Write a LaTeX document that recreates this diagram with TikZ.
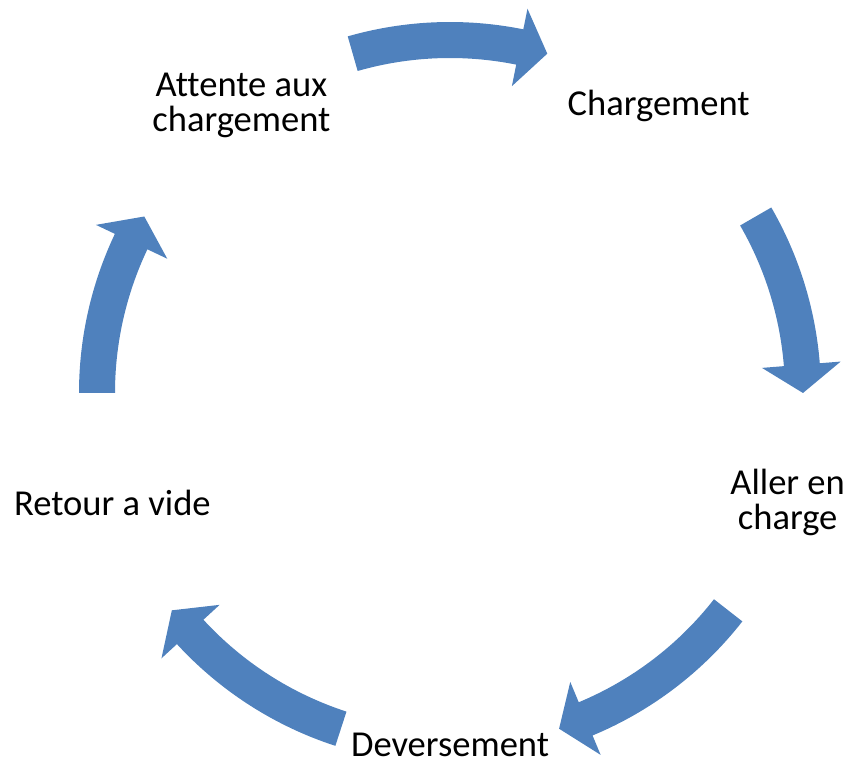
\documentclass[tikz,border=0pt]{standalone}
\usepackage{fontspec}
\setmainfont{Carlito}[Ligatures=NoCommon]
\usepackage{tikz}
\usetikzlibrary{calc}
\definecolor{cycleblue}{HTML}{4F81BD}

\begin{document}
\begin{tikzpicture}[
  x=0.02cm,y=0.02cm,
  font=\fontsize{20.8}{19.9}\selectfont,
  phase/.style={align=center,inner sep=0pt},
  cyclearrow/.style={fill=cycleblue}
]
\useasboundingbox (0,0) rectangle (850,765);
\coordinate (hub) at (450,372);

\begin{scope}[shift={(hub)}]
% The five phases sit on a circle around the hub.
\node[phase] (loading) at (54:355) {Chargement};
\node[phase] (haul) at (-18:355) {Aller en\\charge};
\node[phase] (dump) at (-90:352) {Deversement};
\node[phase] (return) at (198:355) {Retour a vide};
\node[phase] (wait) at (126:355) {Attente aux\\chargement};

% Curved block arrows between neighbouring phases, head at the end angle.
\foreach \s/\e in {106/74,30/0,-38/-72,-108/-142,180/150} {
  \pgfmathsetmacro{\h}{\e+4.6}
  \fill[cyclearrow] (\s:371) arc[start angle=\s,end angle=\h,radius=371]
    -- (\h:392) -- (\e:353) -- (\h:313) -- (\h:335)
    arc[start angle=\h,end angle=\s,radius=335] -- cycle;
}
\end{scope}
\end{tikzpicture}
\end{document}
